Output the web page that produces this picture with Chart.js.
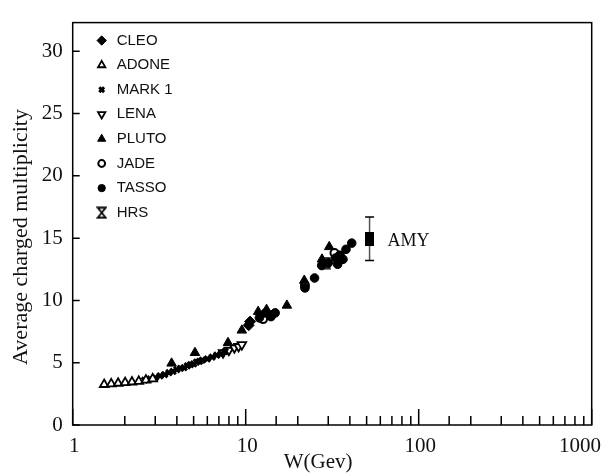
<!DOCTYPE html>
<html>
<head>
<meta charset="utf-8">
<script src="https://cdn.jsdelivr.net/npm/chart.js@4/dist/chart.umd.min.js"></script>
<style>
  body { margin: 0; background: #fff; }
  canvas { display: block; }
</style>
</head>
<body>
<canvas id="myChart" width="603" height="473"></canvas>
<script>
// values: W in GeV, multiplicity
var adoneW = [1.52, 1.67, 1.83, 2.01, 2.2, 2.41, 2.65, 2.9];
var adoneN = [3.25, 3.3, 3.35, 3.4, 3.45, 3.5, 3.6, 3.7];

var markW = [2.6, 2.8, 3.0, 3.2, 3.4, 3.6, 3.8, 4.0, 4.2, 4.4, 4.6, 4.8, 5.0, 5.2, 5.4, 5.6, 6.0, 6.4, 6.8, 7.2, 7.6];
var markN = [3.6, 3.7, 3.8, 3.95, 4.05, 4.2, 4.3, 4.45, 4.55, 4.6, 4.75, 4.85, 4.9, 5.05, 5.1, 5.2, 5.3, 5.45, 5.6, 5.7, 5.9];

var lenaW = [7.4, 8.0, 8.6, 9.1, 9.5];
var lenaN = [5.8, 6.0, 6.2, 6.3, 6.45];

var plutoW = [3.73, 5.09, 7.9, 9.5, 11.8, 13.2, 17.3, 21.8, 27.6, 30.4];
var plutoN = [4.95, 5.8, 6.6, 7.6, 9.1, 9.26, 9.6, 11.6, 13.3, 14.3];

var cleoW = [10.4, 10.6];
var cleoN = [8.0, 8.3];

var jadeW = [12.6, 14, 22, 32.6, 35];
var jadeN = [8.5, 8.8, 11.2, 13.8, 13.6];

var tassoW = [12, 13, 14, 14.8, 22, 25, 27.5, 30, 33, 34, 35, 36.5, 38, 41];
var tassoN = [8.6, 9.0, 8.7, 9.0, 11.0, 11.8, 12.8, 13.0, 13.4, 12.9, 13.6, 13.3, 14.1, 14.6];

var hrsW = [29];
var hrsN = [13.0];

var amyW = [52];
var amyN = [14.9];
var amyLow = [13.2];
var amyHigh = [16.7];

var legendNames = ["CLEO", "ADONE", "MARK 1", "LENA", "PLUTO", "JADE", "TASSO", "HRS"];
var xTickLabels = ["1", "10", "100", "1000"];
var yTicks = [0, 5, 10, 15, 20, 25, 30];

function pts(xs, ys) {
    return xs.map(function (x, i) { return {x: x, y: ys[i]}; });
}

function hourglass() {
    var c = document.createElement('canvas');
    c.width = 11; c.height = 13;
    var g = c.getContext('2d');
    g.strokeStyle = '#000';
    g.lineWidth = 1.8;
    g.beginPath();
    g.moveTo(1.5, 1.5); g.lineTo(9.5, 1.5); g.lineTo(1.5, 11.5); g.lineTo(9.5, 11.5); g.closePath();
    g.stroke();
    return c;
}

function tallRect() {
    var c = document.createElement('canvas');
    c.width = 9; c.height = 14;
    var g = c.getContext('2d');
    g.fillStyle = '#000';
    g.fillRect(0, 0, 9, 14);
    return c;
}

var hrsImg = hourglass();
var amyImg = tallRect();

function ds(name, xs, ys, style, radius, filled, bw, rot) {
    return {
        label: name,
        data: pts(xs, ys),
        pointStyle: style,
        pointRadius: radius,
        pointRotation: rot || 0,
        pointBorderWidth: bw,
        pointBackgroundColor: filled ? '#000' : '#fff',
        pointBorderColor: '#000',
        backgroundColor: filled ? '#000' : '#fff',
        borderColor: '#000'
    };
}

var datasets = [
    ds("ADONE", adoneW, adoneN, 'triangle', 5, false, 1.8),
    ds("MARK 1", markW, markN, 'crossRot', 4, true, 3),
    ds("LENA", lenaW, lenaN, 'triangle', 5, false, 1.8, 180),
    ds("PLUTO", plutoW, plutoN, 'triangle', 5.5, true, 1),
    ds("CLEO", cleoW, cleoN, 'rectRot', 5.5, true, 1),
    ds("TASSO", tassoW, tassoN, 'circle', 4.3, true, 1),
    ds("JADE", jadeW, jadeN, 'circle', 4, false, 2),
    ds("HRS", hrsW, hrsN, hrsImg, 6, false, 1),
    ds("AMY", amyW, amyN, amyImg, 7, true, 1)
];

var serif = "'Liberation Serif', 'Times New Roman', serif";
var sans = "'Liberation Sans', Arial, sans-serif";

var extras = {
    id: 'extras',
    beforeDatasetsDraw: function (chart) {
        var ctx = chart.ctx, x = chart.scales.x, y = chart.scales.y;
        // AMY error bar
        ctx.save();
        for (var i = 0; i < amyW.length; i++) {
            var px = x.getPixelForValue(amyW[i]);
            var lo = y.getPixelForValue(amyLow[i]), hi = y.getPixelForValue(amyHigh[i]);
            ctx.strokeStyle = '#555';
            ctx.lineWidth = 1.5;
            ctx.beginPath(); ctx.moveTo(px, lo); ctx.lineTo(px, hi); ctx.stroke();
            ctx.strokeStyle = '#000';
            ctx.beginPath();
            ctx.moveTo(px - 4.5, lo); ctx.lineTo(px + 4.5, lo);
            ctx.moveTo(px - 4.5, hi); ctx.lineTo(px + 4.5, hi);
            ctx.stroke();
        }
        ctx.restore();
    },
    afterDraw: function (chart) {
        var ctx = chart.ctx, a = chart.chartArea, x = chart.scales.x, y = chart.scales.y;
        ctx.save();
        ctx.strokeStyle = '#000';
        ctx.lineWidth = 1.5;
        ctx.strokeRect(a.left, a.top, a.right - a.left, a.bottom - a.top);

        // inward ticks
        ctx.beginPath();
        yTicks.forEach(function (v) {
            var py = y.getPixelForValue(v);
            ctx.moveTo(a.left, py); ctx.lineTo(a.left + 7, py);
        });
        x.ticks.forEach(function (t) {
            var px = x.getPixelForValue(t.value);
            var lg = Math.log10(t.value);
            var major = Math.abs(lg - Math.round(lg)) < 1e-9;
            ctx.moveTo(px, a.bottom); ctx.lineTo(px, a.bottom - (major ? 16 : 9));
        });
        ctx.stroke();

        // x tick labels
        ctx.fillStyle = '#111';
        ctx.font = '21px ' + serif;
        ctx.textBaseline = 'alphabetic';
        xTickLabels.forEach(function (lab, i) {
            var px = x.getPixelForValue(parseFloat(lab));
            if (i === xTickLabels.length - 1) {
                ctx.textAlign = 'right';
                ctx.fillText(lab, chart.width - 2, a.bottom + 27);
            } else {
                ctx.textAlign = 'center';
                ctx.fillText(lab, px + 1.5, a.bottom + 27);
            }
        });

        // axis titles
        ctx.textAlign = 'center';
        ctx.textBaseline = 'middle';
        ctx.fillText("W(Gev)", (a.left + a.right) / 2 - 14, 462);
        ctx.save();
        ctx.translate(21, 237);
        ctx.rotate(-Math.PI / 2);
        ctx.font = '22px ' + serif;
        ctx.fillText("Average charged multiplicity", 0, 0);
        ctx.restore();

        // AMY label
        ctx.font = '18px ' + serif;
        ctx.textAlign = 'left';
        ctx.textBaseline = 'alphabetic';
        ctx.fillText("AMY", x.getPixelForValue(amyW[0]) + 18, y.getPixelForValue(amyN[0]) + 6.5);

        // legend
        ctx.font = '15px ' + sans;
        ctx.textBaseline = 'middle';
        legendNames.forEach(function (name, i) {
            var d = chart.data.datasets.filter(function (s) { return s.label === name; })[0];
            var ly = 40.5 + i * 24.6;
            ctx.fillStyle = d.pointBackgroundColor;
            ctx.strokeStyle = d.pointBorderColor;
            ctx.lineWidth = d.pointBorderWidth;
            Chart.helpers.drawPoint(ctx, {
                pointStyle: d.pointStyle,
                rotation: d.pointRotation,
                radius: d.pointRadius * 0.85,
                borderWidth: d.pointBorderWidth
            }, a.left + 29, ly);
            ctx.fillStyle = '#111';
            ctx.fillText(name, a.left + 44, ly);
        });
        ctx.restore();
    }
};

new Chart("myChart", {
    type: "scatter",
    data: {datasets: datasets},
    options: {
        responsive: false,
        animation: false,
        layout: {padding: {top: 13.5, right: 11.3, left: 0, bottom: 0}},
        plugins: {
            legend: {display: false},
            tooltip: {enabled: false}
        },
        scales: {
            x: {
                type: 'logarithmic',
                min: 1,
                max: 1000,
                grid: {display: false, drawTicks: false},
                border: {display: false},
                ticks: {display: false},
                afterFit: function (s) { s.height = 48; }
            },
            y: {
                min: 0,
                max: 32.3,
                grid: {display: false, drawTicks: false},
                border: {display: false},
                ticks: {
                    stepSize: 5,
                    padding: 10,
                    color: '#111',
                    font: {family: serif, size: 21}
                },
                afterBuildTicks: function (s) {
                    s.ticks = s.ticks.filter(function (t) { return yTicks.indexOf(t.value) >= 0; });
                },
                afterFit: function (s) { s.width = 72.7; }
            }
        }
    },
    plugins: [extras]
});
</script>
</body>
</html>
